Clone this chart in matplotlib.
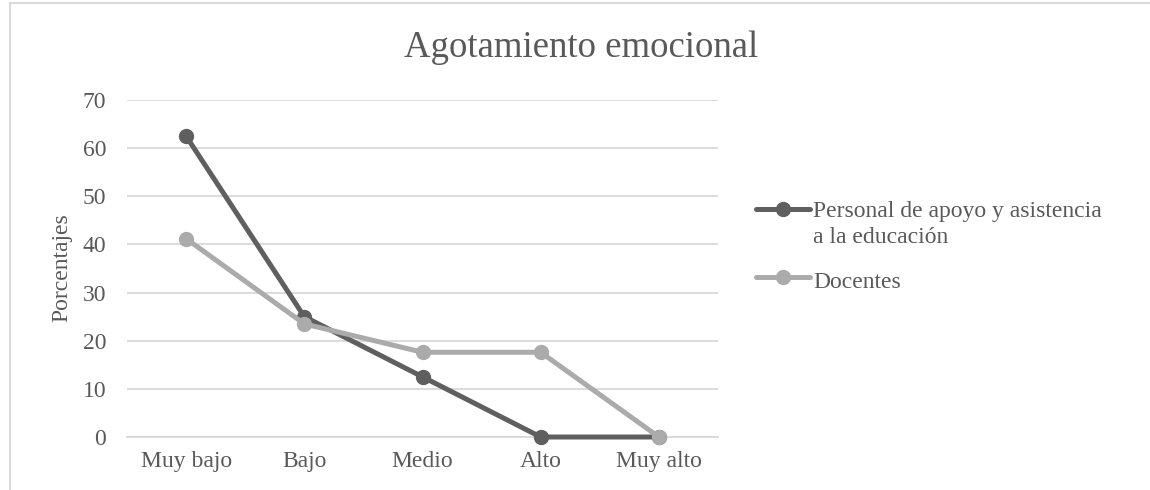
import matplotlib.pyplot as plt
from matplotlib.lines import Line2D
from matplotlib.patches import Rectangle

categories = ["Muy bajo", "Bajo", "Medio", "Alto", "Muy alto"]
personal_apoyo = [62.5, 25.0, 12.5, 0.0, 0.0]
docentes = [41.2, 23.5, 17.6, 17.6, 0.0]
series_labels = ["Personal de apoyo y asistencia\na la educación", "Docentes"]
series_colors = ["#5f5f5f", "#ababab"]

TEXT = "#595959"
GRID = "#d9d9d9"
W, H = 1150, 490

plt.rcParams["font.family"] = ["Liberation Serif", "DejaVu Serif"]

fig = plt.figure(figsize=(W / 100, H / 100), dpi=100)
ax = fig.add_axes([127 / W, 1 - 437 / H, 591 / W, 337 / H])

x = list(range(len(categories)))
# both series above the spine; the later one on top
for vals, col, z in [(personal_apoyo, series_colors[0], 3),
                     (docentes, series_colors[1], 4)]:
    ax.plot(x, vals, color=col, lw=3.6, marker="o", ms=10, zorder=z,
            solid_capstyle="round", clip_on=False)

ax.set_xlim(-0.5, len(categories) - 0.5)
ax.set_ylim(0, 70)
ax.set_yticks(range(0, 71, 10))
ax.set_xticks(x)
ax.set_xticklabels(categories)
ax.yaxis.grid(True, color=GRID, lw=1.3)
ax.set_axisbelow(True)
for side in ("top", "right", "left"):
    ax.spines[side].set_visible(False)
ax.spines["bottom"].set_color(GRID)
ax.spines["bottom"].set_linewidth(1.3)
ax.tick_params(length=0, labelsize=17, labelcolor=TEXT)
ax.tick_params(axis="x", pad=10)
ax.tick_params(axis="y", pad=15)

fig.text(62 / W, 1 - 268 / H, "Porcentajes", rotation=90, fontsize=17,
         color=TEXT, ha="center", va="center")
fig.text(581 / W, 1 - 57 / H, "Agotamiento emocional", fontsize=26.5,
         color=TEXT, ha="center", va="baseline")

# legend drawn by hand so the handle sits on the first text line
legend_rows = [(209, 217), (277, 288)]   # (handle y, first baseline y) in px
for label, col, (yh, yb) in zip(series_labels, series_colors, legend_rows):
    yf = 1 - yh / H
    fig.lines.append(Line2D([756 / W, 810 / W], [yf, yf], transform=fig.transFigure,
                            color=col, lw=3.6, solid_capstyle="round"))
    fig.lines.append(Line2D([783 / W], [yf], transform=fig.transFigure,
                            color=col, marker="o", ms=10, lw=0))
    for i, line in enumerate(label.split("\n")):
        fig.text(813 / W, 1 - (yb + 26 * i) / H, line, fontsize=17, color=TEXT,
                 ha="left", va="baseline")

# chart area border (only top and left edges fall inside the canvas)
fig.patches.append(Rectangle((10 / W, -0.1), 1.2, 1 - 3 / H + 0.1,
                             transform=fig.transFigure, fill=False,
                             edgecolor=GRID, lw=1.5))

fig.savefig("out.png", dpi=100)
